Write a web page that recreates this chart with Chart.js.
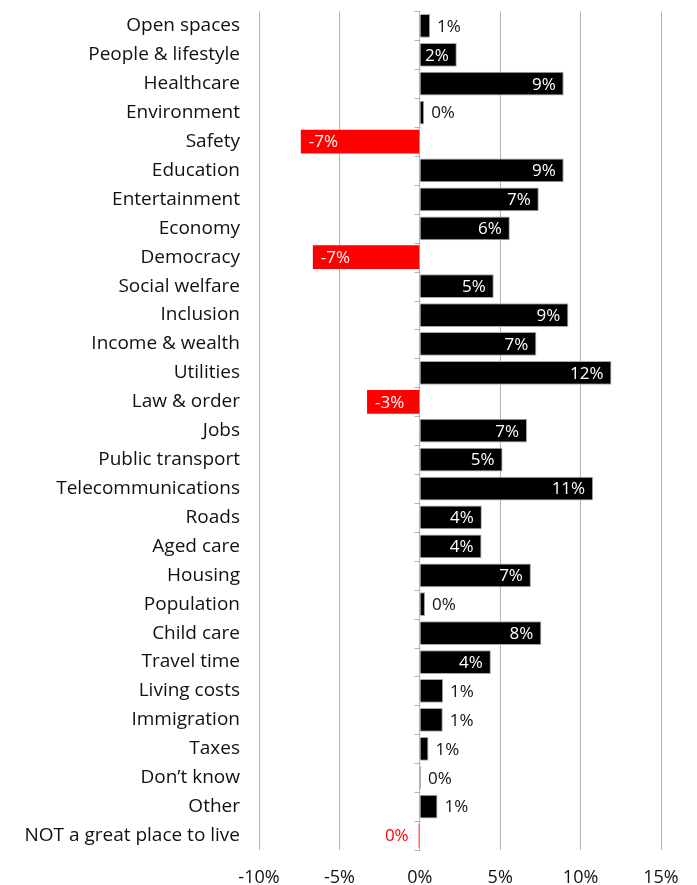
<!DOCTYPE html>
<html>
<head>
<meta charset="utf-8">
<script src="https://cdn.jsdelivr.net/npm/chart.js@4/dist/chart.umd.min.js"></script>
<style>
  html, body { margin: 0; padding: 0; background: #fff; }
  #wrap { width: 697px; height: 885px; }
</style>
</head>
<body>
<div id="wrap"><canvas id="reasons" width="697" height="885"></canvas></div>
<script>
const categories = [
    'Open spaces', 'People & lifestyle', 'Healthcare', 'Environment', 'Safety',
    'Education', 'Entertainment', 'Economy', 'Democracy', 'Social welfare',
    'Inclusion', 'Income & wealth', 'Utilities', 'Law & order', 'Jobs',
    'Public transport', 'Telecommunications', 'Roads', 'Aged care', 'Housing',
    'Population', 'Child care', 'Travel time', 'Living costs', 'Immigration',
    'Taxes', 'Don\u2019t know', 'Other', 'NOT a great place to live'
];
const changes = [
    0.64, 2.3, 8.95, 0.27, -7.4,
    8.95, 7.4, 5.6, -6.65, 4.6,
    9.24, 7.25, 11.92, -3.28, 6.67,
    5.15, 10.78, 3.86, 3.84, 6.91,
    0.33, 7.56, 4.42, 1.45, 1.43,
    0.54, 0.08, 1.1, -0.07
];
const xTicks = [-10, -5, 0, 5, 10, 15];

const FONT = '"Open Sans", "Noto Sans", sans-serif';
const GRID = '#b4b4b4';

function pct(v) {
    let r = Math.round(v);
    if (r === 0) r = 0;
    return r + '%';
}

// value labels: white inside the bar end for long bars, bar-coloured outside for short ones
const valueLabels = {
    id: 'valueLabels',
    afterDatasetsDraw(chart) {
        const ctx = chart.ctx;
        const meta = chart.getDatasetMeta(0);
        ctx.save();
        ctx.font = '17px ' + FONT;
        ctx.textBaseline = 'middle';
        meta.data.forEach((bar, i) => {
            const v = changes[i];
            const text = pct(v);
            const inside = Math.abs(v) >= 2;
            const neg = v < 0;
            if (inside) {
                ctx.fillStyle = '#fff';
                ctx.textAlign = neg ? 'left' : 'right';
                ctx.fillText(text, neg ? bar.x + 8 : bar.x - 8, bar.y + 1);
            } else {
                ctx.fillStyle = neg ? '#ff0000' : '#111';
                ctx.textAlign = neg ? 'right' : 'left';
                ctx.fillText(text, neg ? bar.x - 10 : bar.x + 7, bar.y + 1);
            }
        });
        ctx.restore();
    }
};

// small category tick marks sitting on the zero line
const zeroTicks = {
    id: 'zeroTicks',
    afterDatasetsDraw(chart) {
        const ctx = chart.ctx;
        const xs = chart.scales.x, ys = chart.scales.y;
        const x0 = Math.round(xs.getPixelForValue(0)) + 0.5;
        const step = (ys.bottom - ys.top) / categories.length;
        ctx.save();
        ctx.strokeStyle = GRID;
        ctx.lineWidth = 1;
        ctx.beginPath();
        for (let i = 0; i <= categories.length; i++) {
            const y = Math.round(ys.top + i * step) + 0.5;
            ctx.moveTo(x0 - 6, y);
            ctx.lineTo(x0, y);
        }
        ctx.stroke();
        ctx.restore();
    }
};

new Chart(document.getElementById('reasons'), {
    type: 'bar',
    data: {
        labels: categories,
        datasets: [{
            data: changes,
            backgroundColor: changes.map(v => v < 0 ? '#ff0000' : '#000000'),
            borderColor: changes.map(v => v < 0 ? '#ff0000' : '#a8a8a8'),
            borderWidth: changes.map(v => v < 0 ? 0 : 1),
            borderSkipped: 'start',
            barPercentage: 0.82,
            categoryPercentage: 1.0
        }]
    },
    options: {
        indexAxis: 'y',
        responsive: false,
        animation: false,
        layout: { padding: { top: 7, right: 36, left: 0, bottom: 0 } },
        plugins: {
            legend: { display: false },
            tooltip: { enabled: false }
        },
        scales: {
            x: {
                min: -10,
                max: 15,
                afterBuildTicks: (scale) => { scale.ticks = xTicks.map(v => ({ value: v })); },
                afterFit: (scale) => { scale.height = 35; },
                grid: { color: GRID, lineWidth: 1, drawTicks: false },
                border: { display: false },
                ticks: {
                    padding: 17,
                    color: '#111',
                    font: { family: FONT, size: 18 },
                    callback: (v) => v + '%'
                }
            },
            y: {
                afterFit: (scale) => { scale.width = 259; },
                // invisible tick marks keep the labels clear of the plot without padding the top
                grid: { display: true, drawOnChartArea: false, drawTicks: true, tickLength: 19, color: 'rgba(0,0,0,0)' },
                border: { display: false },
                ticks: {
                    padding: 0,
                    autoSkip: false,
                    color: '#111',
                    font: { family: FONT, size: 19 }
                }
            }
        }
    },
    plugins: [valueLabels, zeroTicks]
});
</script>
</body>
</html>
